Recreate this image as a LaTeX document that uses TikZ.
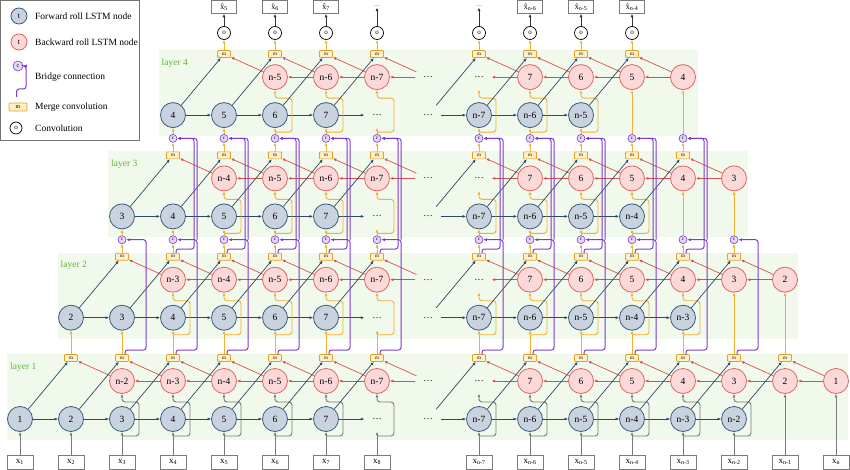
\documentclass[tikz,border=0pt]{standalone}
\usepackage{fontspec}
\setmainfont{Liberation Serif}
\usetikzlibrary{arrows.meta}
\definecolor{fwdfill}{HTML}{C8D3DF}
\definecolor{fwdline}{HTML}{3B5B7A}
\definecolor{fwdarr}{HTML}{2C4A66}
\definecolor{bwdfill}{HTML}{FCD9D9}
\definecolor{bwdline}{HTML}{DE6464}
\definecolor{bwdarr}{HTML}{D5524C}
\definecolor{ylw}{HTML}{F0B030}
\definecolor{mfill}{HTML}{FFEFC6}
\definecolor{mline}{HTML}{E2A028}
\definecolor{purp}{HTML}{7D3CCB}
\definecolor{cfill}{HTML}{E6D6FA}
\definecolor{inpgray}{HTML}{7A7A7A}
\definecolor{bggreen}{HTML}{F1F9EC}
\definecolor{lblgreen}{HTML}{5DB23E}
\newcommand\colflags[2]{%
 \pgfmathtruncatemacro\hasF{or(and(#2>#1-1,#2<10),and(#2>9,#2<17-#1))}%
 \pgfmathtruncatemacro\hasB{or(and(#2>#1+1,#2<11),and(#2>10,#2<19-#1))}%
 \pgfmathtruncatemacro\hasM{or(and(#2>#1,#2<9),and(#2>9,#2<18-#1))}%
 \pgfmathtruncatemacro\hasS{or(and(#2>#1-1,#2<9),and(#2>9,#2<19-#1))}%
}
\tikzset{
 lbl/.style={font=\fontsize{9.5}{10}\selectfont},
 fwd/.style={circle, draw=fwdline, fill=fwdfill, line width=0.8pt, minimum size=25pt, inner sep=0pt, lbl},
 bwd/.style={circle, draw=bwdline, fill=bwdfill, line width=0.8pt, minimum size=25pt, inner sep=0pt, lbl},
 dotn/.style={circle, minimum size=25pt, inner sep=0pt, lbl},
 mrg/.style={rectangle, rounded corners=0.8pt, draw=mline, fill=mfill, line width=0.7pt, minimum width=13pt, minimum height=7pt, inner sep=0pt, font=\fontsize{5}{5}\selectfont},
 cnode/.style={circle, draw=purp, fill=cfill, line width=0.6pt, minimum size=8pt, inner sep=0pt, font=\fontsize{5}{5}\selectfont},
 conv/.style={circle, draw=black, fill=white, line width=0.7pt, minimum size=13pt, inner sep=0pt, font=\fontsize{7}{7}\selectfont},
 inbox/.style={rectangle, draw=inpgray, fill=white, line width=0.6pt, minimum width=26pt, minimum height=14pt, inner sep=0pt, font=\fontsize{9}{9}\selectfont},
 outbox/.style={rectangle, draw=inpgray, fill=white, line width=0.6pt, minimum width=25pt, minimum height=13pt, inner sep=0pt, font=\fontsize{8}{8}\selectfont},
 farr/.style={draw=fwdarr, line width=0.7pt, ->},
 barr/.style={draw=bwdarr, line width=0.7pt, ->},
 graylin/.style={draw=inpgray, line width=0.9pt, ->},
 ylwlin/.style={draw=ylw, line width=0.9pt, ->},
 blklin/.style={draw=black!80, line width=0.9pt, ->},
 bridge/.style={draw=purp, line width=1pt, ->, rounded corners=2.5pt},
 layerlbl/.style={text=lblgreen, font=\fontsize{9.5}{10}\selectfont, inner sep=0pt, anchor=west},
 legtext/.style={anchor=west, inner sep=0pt, font=\fontsize{9.5}{10}\selectfont},
}
\begin{document}
\begin{tikzpicture}[x=1pt,y=-1pt,>={Latex[length=3.5pt,width=3pt]}]
\useasboundingbox (0,0) rectangle (850,470);
% layer backgrounds
\foreach \k in {1,...,4}{
 \pgfmathsetmacro\my{358-101.3*(\k-1)}
 \pgfmathsetmacro\L{7+50.5*(\k-1)}
 \pgfmathsetmacro\R{848-50*(\k-1)}
 \fill[bggreen] (\L,\my-4) rectangle (\R,\my+82);
 \node[layerlbl] (lab\k) at (\L+3,\my+9) {layer \k};
}
% nodes of the layers
\foreach \k in {1,...,4}{
 \pgfmathsetmacro\my{358-101.3*(\k-1)}
 \pgfmathsetmacro\by{\my+23}
 \pgfmathsetmacro\fy{\my+61}
 \foreach \c in {1,...,17}{
  \pgfmathsetmacro\X{20+51*(\c-1)}
  \colflags{\k}{\c}
  \ifnum\hasF=1
   \ifnum\c<8 \node[fwd] (f-\k-\c) at (\X,\fy) {\c};
   \else\ifnum\c<10 \node[dotn] (f-\k-\c) at (\X,\fy) {\dots};
   \else \node[fwd] (f-\k-\c) at (\X,\fy) {n-\the\numexpr17-\c\relax};
   \fi\fi
  \fi
  \ifnum\hasB=1
   \ifnum\c<9 \node[bwd] (b-\k-\c) at (\X,\by) {n-\the\numexpr\c-1\relax};
   \else\ifnum\c<11 \node[dotn] (b-\k-\c) at (\X,\by) {\dots};
   \else \node[bwd] (b-\k-\c) at (\X,\by) {\the\numexpr18-\c\relax};
   \fi\fi
  \fi
  \ifnum\hasM=1
   \node[mrg] (m-\k-\c) at (\X,\my) {m};
   \ifnum\k>1 \ifnum\k<4 \node[cnode] (cc-\k-\c) at (\X,\my-17) {c}; \fi\fi
   \ifnum\k=4
    \node[conv] (conv-\c) at (\X,33) {o};
    \ifnum\c<8 \node[outbox] (out-\c) at (\X,7) {\^{x}\textsubscript{\c}};
    \else\ifnum\c<11 \node[inner sep=1pt, font=\fontsize{6}{6}\selectfont] (out-\c) at (\X,6) {\dots};
    \else \node[outbox] (out-\c) at (\X,7) {\^{x}\textsubscript{n-\the\numexpr17-\c\relax}};
    \fi\fi
   \fi
  \fi
 }
}
% input boxes
\foreach \c in {1,...,17}{
 \pgfmathsetmacro\X{20+51*(\c-1)}
 \ifnum\c<9 \node[inbox] (in-\c) at (\X,462) {x\textsubscript{\c}};\fi
 \ifnum\c>9
  \ifnum\c=17 \node[inbox] (in-\c) at (\X,462) {x\textsubscript{n}};
  \else \node[inbox] (in-\c) at (\X,462) {x\textsubscript{n-\the\numexpr17-\c\relax}};
  \fi
 \fi
}
% connectors of the layers
\foreach \k in {1,...,4}{
 \pgfmathsetmacro\my{358-101.3*(\k-1)}
 \pgfmathsetmacro\fy{\my+61}
 \pgfmathtruncatemacro\kp{\k-1}
 \foreach \c in {1,...,17}{
  \pgfmathsetmacro\X{20+51*(\c-1)}
  \pgfmathtruncatemacro\cn{\c+1}
  \pgfmathtruncatemacro\cp{\c-1}
  \colflags{\k}{\c}
  \pgfmathtruncatemacro\fch{or(and(\c>\k-1,\c<8),or(\c==9,and(\c>9,\c<16-\k)))}
  \pgfmathtruncatemacro\bch{or(and(\c>\k+1,\c<9),and(\c>9,\c<18-\k))}
  \ifnum\fch=1 \draw[farr] (f-\k-\c) -- (f-\k-\cn); \fi
  \ifnum\bch=1 \draw[barr] (b-\k-\cn) -- (b-\k-\c); \fi
  \ifnum\hasM=1
   \draw[farr] (f-\k-\cp) -- (m-\k-\c);
   \draw[barr] (b-\k-\cn) -- (m-\k-\c);
  \fi
  \ifnum\hasS=1
   \ifcase\k\or \edef\S{in-\c}\tikzset{curlin/.style={graylin}}%
   \or \edef\S{m-1-\c}\tikzset{curlin/.style={ylwlin}}%
   \else \edef\S{cc-\kp-\c}\tikzset{curlin/.style={ylwlin}}\fi
   \ifnum\hasF=1
    \draw[curlin] (\S) -- (f-\k-\c);
    \ifnum\hasB=1
     \draw[curlin, rounded corners=3pt] (\X,\fy+17) -- (\X+17,\fy+17) -- (\X+17,\fy-17) -- (\X,\fy-17) -- (b-\k-\c.south);
    \fi
   \else
    \draw[curlin] (\S) -- (b-\k-\c);
   \fi
  \fi
  \ifnum\hasM=1
   \ifnum\k>1 \ifnum\k<4 \draw[ylwlin] (m-\k-\c) -- (cc-\k-\c); \fi\fi
   \ifnum\k=4 \draw[ylwlin] (m-4-\c) -- (conv-\c); \draw[blklin] (conv-\c) -- (out-\c); \fi
  \fi
 }
}
% bridge connections
\foreach \c in {1,...,17}{
 \pgfmathsetmacro\X{20+51*(\c-1)}
 \pgfmathtruncatemacro\mtwo{or(and(\c>2,\c<9),and(\c>9,\c<16))}
 \pgfmathtruncatemacro\mthree{or(and(\c>3,\c<9),and(\c>9,\c<15))}
 \ifnum\mtwo=1
  \draw[bridge] (\X+3,354.5) -- (\X+3,350) -- (\X+24,350) -- (\X+24,239.7) -- (cc-2-\c.east);
 \fi
 \ifnum\mthree=1
  \draw[bridge] (\X+24,239.7) -- (\X+24,138.4) -- (cc-3-\c.east);
  \draw[bridge] (\X+3,253.2) -- (\X+3,249) -- (\X+21,249) -- (\X+21,138.4) -- (cc-3-\c.east);
 \fi
}
% legend
\draw[draw=black!55, line width=0.7pt, fill=white] (0.5,0.5) rectangle (139,140);
\node[fwd, minimum size=16pt, font=\fontsize{8}{8}\selectfont] (lgf) at (19,16) {t};
\node[legtext] (lgft) at (35,16) {Forward roll LSTM node};
\node[bwd, minimum size=16pt, font=\fontsize{8}{8}\selectfont] (lgb) at (19,42) {t};
\node[legtext] (lgbt) at (35,42) {Backward roll LSTM node};
\node[cnode, minimum size=10pt, font=\fontsize{6}{6}\selectfont] (lgc) at (18,66) {c};
\coordinate (lgcs) at (16.5,97);
\draw[bridge] (lgcs) -- (16.5,89) -- (26,89) -- (26,66) -- (lgc.east);
\node[legtext] (lgct) at (35,77) {Bridge connection};
\node[mrg, minimum width=18pt, minimum height=8pt, font=\fontsize{6}{6}\selectfont] (lgm) at (18,107) {m};
\node[legtext] (lgmt) at (35,107) {Merge convolution};
\node[conv, minimum size=12pt] (lgo) at (16,128) {o};
\node[legtext] (lgot) at (35,128) {Convolution};
\end{tikzpicture}
\end{document}
